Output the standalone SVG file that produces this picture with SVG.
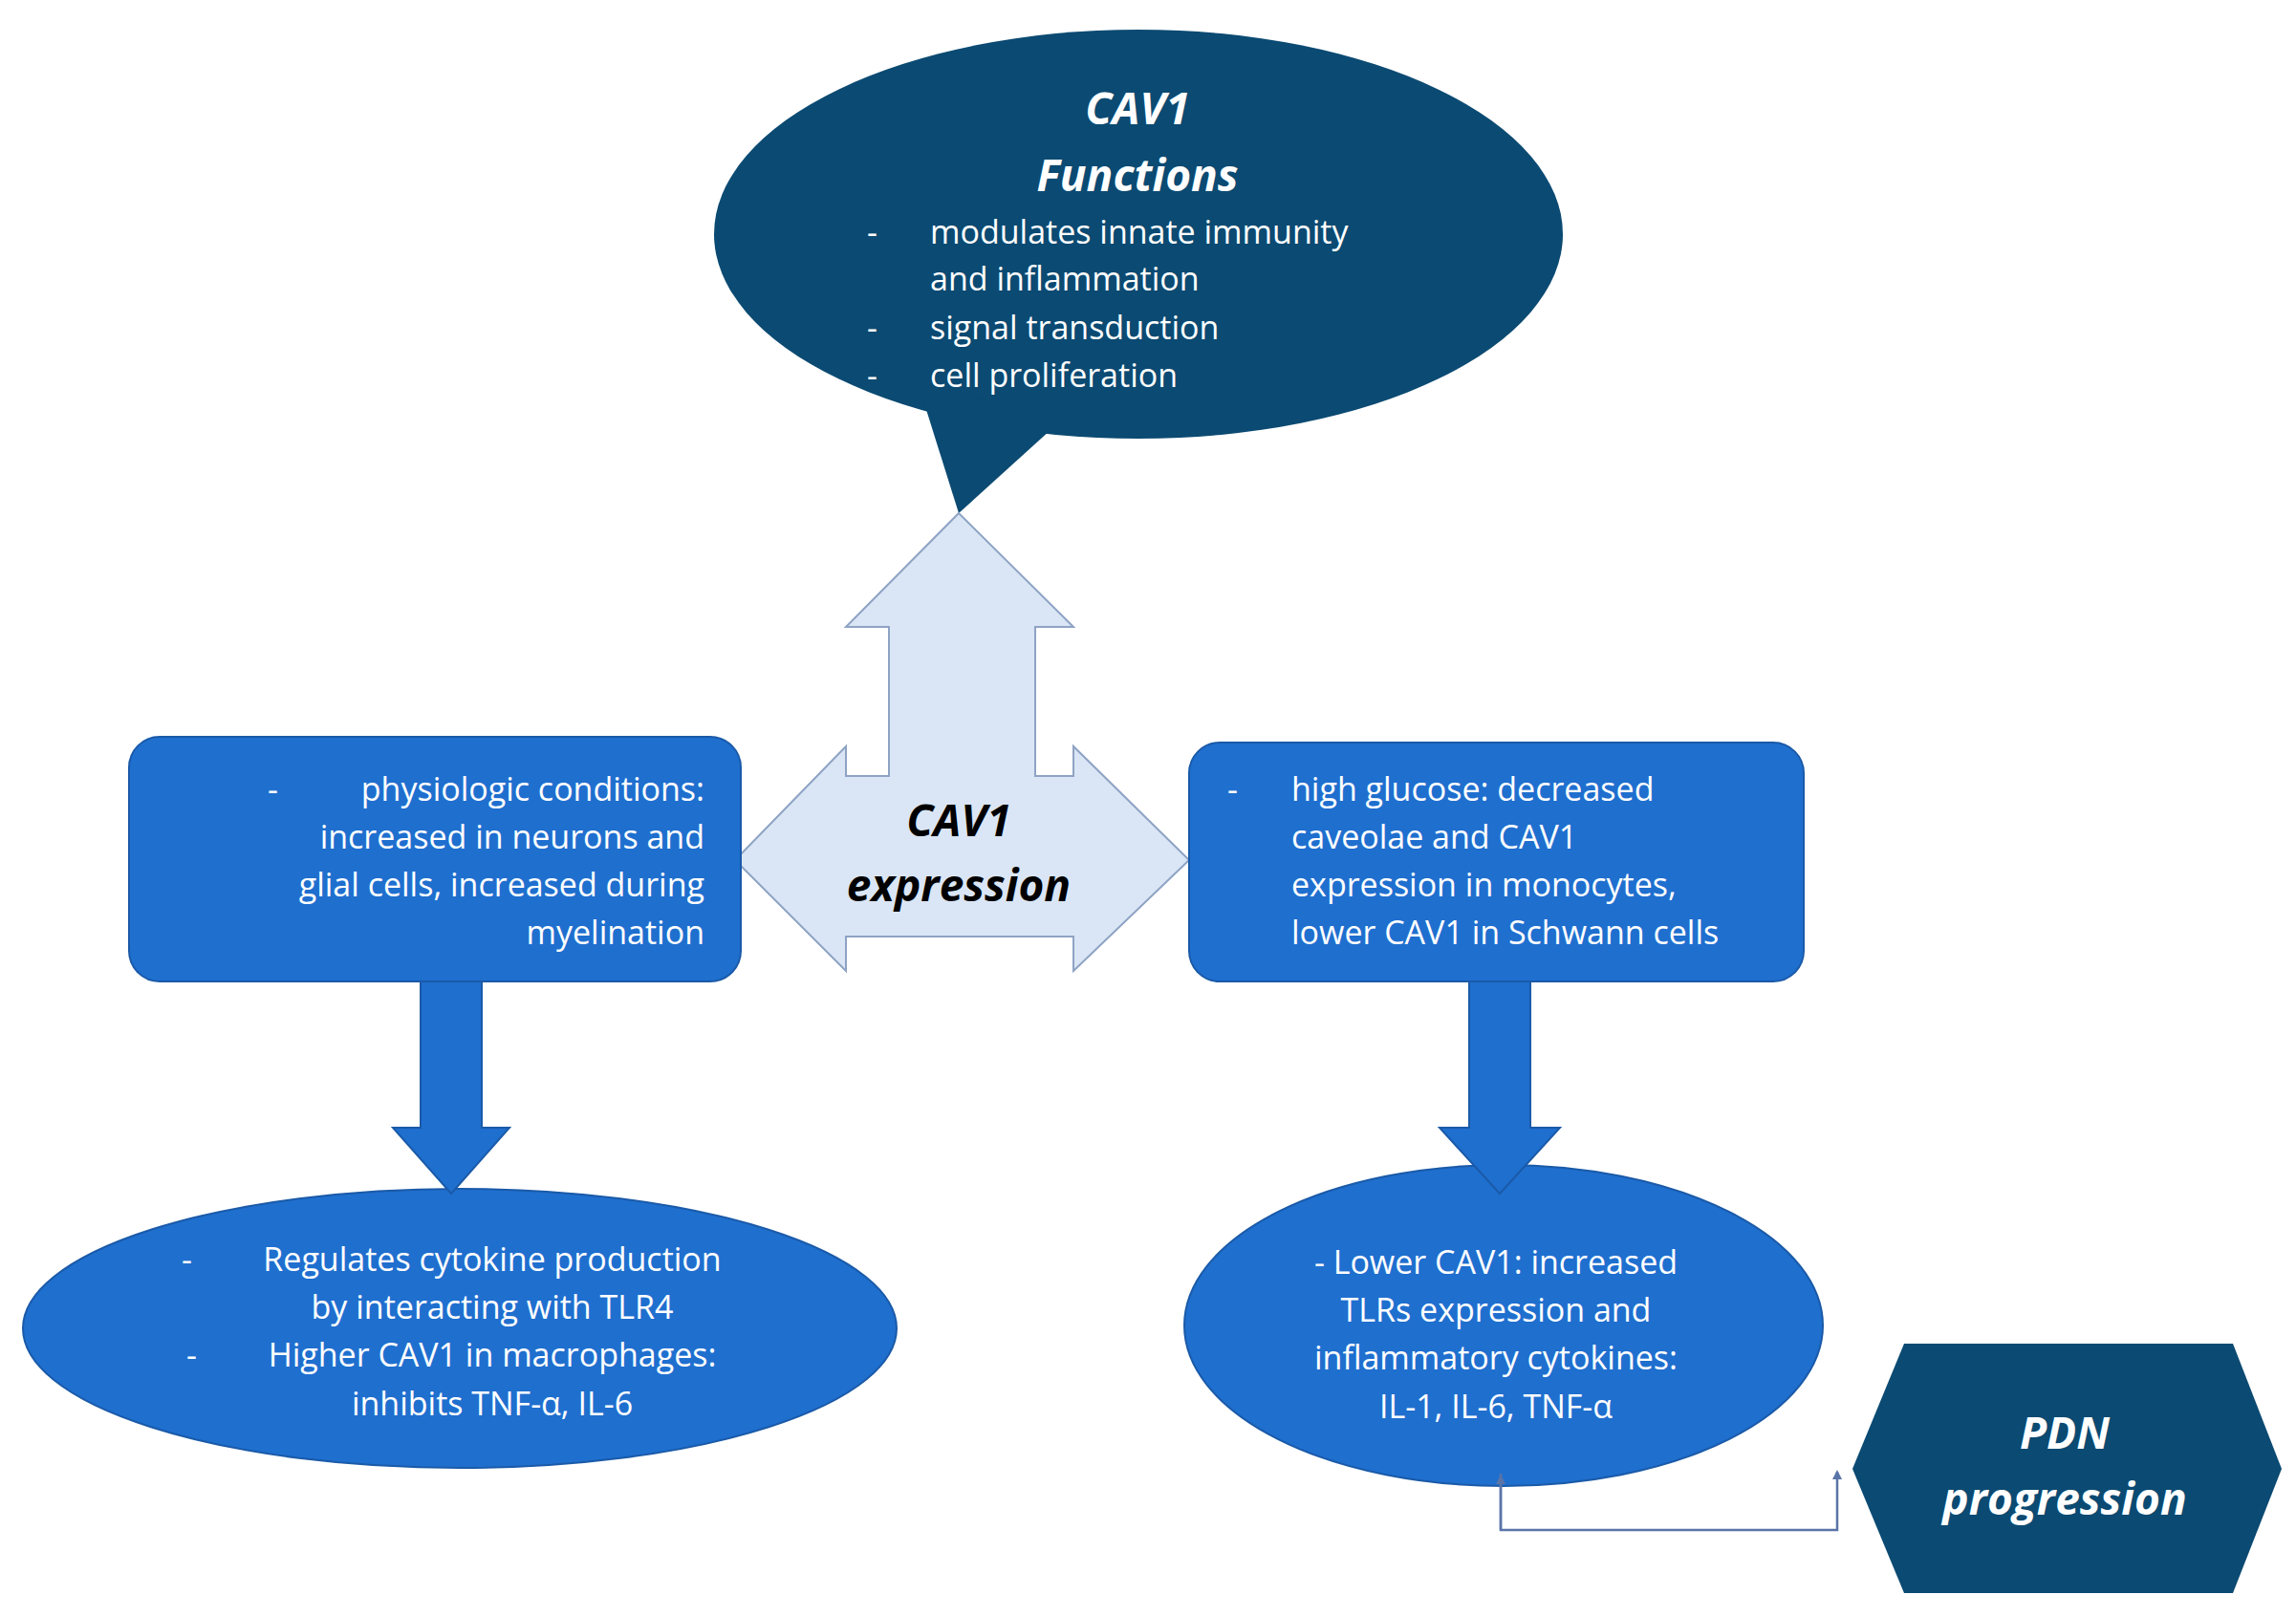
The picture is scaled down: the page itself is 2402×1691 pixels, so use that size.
<svg xmlns="http://www.w3.org/2000/svg" width="2402" height="1691" viewBox="0 0 2402 1691">
<style>
text{font-family:"Open Sans","Liberation Sans",sans-serif;fill:#fff;font-size:34px}
.t{font-weight:bold;font-style:italic;font-size:46px}
.dark{fill:#0b4a72}
.blue{fill:#1f6fcf;stroke:#1a5aa8;stroke-width:2}
</style>
<defs>
<marker id="ah" markerWidth="10" markerHeight="10" refX="8" refY="5" orient="auto" markerUnits="userSpaceOnUse"><path d="M0,0 L10,5 L0,10 Z" fill="#5a74a8"/></marker>
</defs>
<rect width="2402" height="1691" fill="#fff"/>
<g id="functions">
<ellipse class="dark" cx="1191" cy="245" rx="444" ry="214"/>
<path class="dark" d="M960,400 L1003,537 L1110,440 Z"/>
<text class="t" x="1190" y="130" text-anchor="middle">CAV1</text>
<text class="t" x="1190" y="200" text-anchor="middle">Functions</text>
<text x="907" y="255">-</text><text x="973" y="255">modulates innate immunity</text>
<text x="973" y="304">and inflammation</text>
<text x="907" y="355">-</text><text x="973" y="355">signal transduction</text>
<text x="907" y="405">-</text><text x="973" y="405">cell proliferation</text>
</g>
<g id="expression">
<path d="M1003,537 L1123,656 L1083,656 L1083,812 L1123,812 L1123,781 L1244,900 L1123,1016 L1123,980 L885,980 L885,1016 L769,900 L885,781 L885,812 L930,812 L930,656 L885,656 Z" fill="#dae6f5" stroke="#8ea3c4" stroke-width="2"/>
<text class="t" x="1003" y="875" text-anchor="middle" style="fill:#000">CAV1</text>
<text class="t" x="1003" y="943" text-anchor="middle" style="fill:#000">expression</text>
</g>
<g id="physiologic">
<rect class="blue" x="135" y="771" width="640" height="256" rx="32"/>
<text x="280" y="838">-</text>
<text x="737" y="838" text-anchor="end">physiologic conditions:</text>
<text x="737" y="888" text-anchor="end">increased in neurons and</text>
<text x="737" y="938" text-anchor="end">glial cells, increased during</text>
<text x="737" y="988" text-anchor="end">myelination</text>
</g>
<g id="glucose">
<rect class="blue" x="1244" y="777" width="643" height="250" rx="32"/>
<text x="1284" y="838">-</text>
<text x="1351" y="838">high glucose: decreased</text>
<text x="1351" y="888">caveolae and CAV1</text>
<text x="1351" y="938">expression in monocytes,</text>
<text x="1351" y="988">lower CAV1 in Schwann cells</text>
</g>
<g id="regulates">
<ellipse class="blue" cx="481" cy="1390" rx="457" ry="146"/>
<text x="190" y="1330">-</text>
<text x="515" y="1330" text-anchor="middle">Regulates cytokine production</text>
<text x="515" y="1380" text-anchor="middle">by interacting with TLR4</text>
<text x="195" y="1430">-</text>
<text x="515" y="1430" text-anchor="middle">Higher CAV1 in macrophages:</text>
<text x="515" y="1481" text-anchor="middle">inhibits TNF-α, IL-6</text>
</g>
<g id="lower">
<ellipse class="blue" cx="1573" cy="1387" rx="334" ry="168"/>
<text x="1565" y="1333" text-anchor="middle">- Lower CAV1: increased</text>
<text x="1565" y="1383" text-anchor="middle">TLRs expression and</text>
<text x="1565" y="1433" text-anchor="middle">inflammatory cytokines:</text>
<text x="1565" y="1484" text-anchor="middle">IL-1, IL-6, TNF-α</text>
</g>
<g id="pdn">
<path class="dark" d="M1938,1537 L1992,1406 L2336,1406 L2387,1537 L2336,1667 L1992,1667 Z"/>
<text class="t" x="2160" y="1516" text-anchor="middle">PDN</text>
<text class="t" x="2160" y="1585" text-anchor="middle">progression</text>
</g>
<g id="connectors">
<path d="M440,1027 L504,1027 L504,1180 L533,1180 L472,1249 L411,1180 L440,1180 Z" fill="#1f6fcf" stroke="#1a5aa8" stroke-width="2"/>
<path d="M1537,1027 L1601,1027 L1601,1180 L1632,1180 L1569,1249 L1506,1180 L1537,1180 Z" fill="#1f6fcf" stroke="#1a5aa8" stroke-width="2"/>
<path d="M1570,1542 L1570,1601 L1922,1601 L1922,1540" fill="none" stroke="#5a74a8" stroke-width="2.5" marker-end="url(#ah)"/>
<path d="M1570,1601 L1570,1545" fill="none" stroke="#5a74a8" stroke-width="2.5" marker-end="url(#ah)"/>
</g>
</svg>
